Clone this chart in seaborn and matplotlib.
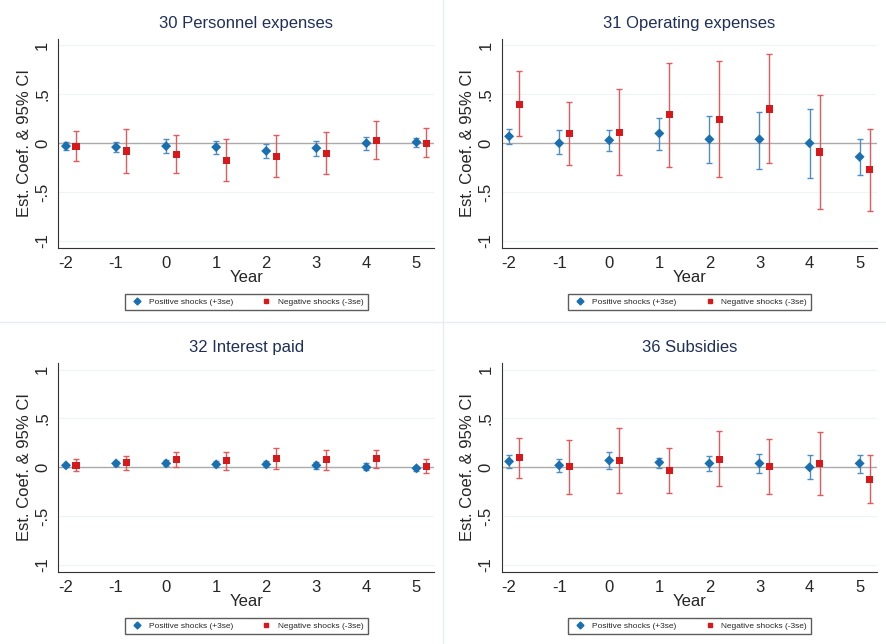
import numpy as np
import pandas as pd
import matplotlib
matplotlib.use('Agg')
import matplotlib.pyplot as plt
from matplotlib.lines import Line2D
import seaborn as sns

sns.set_style('white')
plt.rcParams['font.family'] = ['Liberation Sans', 'DejaVu Sans']
plt.rcParams['axes.unicode_minus'] = False

years = [-2, -1, 0, 1, 2, 3, 4, 5]
titles = ['30 Personnel expenses', '31 Operating expenses', '32 Interest paid', '36 Subsidies']

# positive shocks: estimate, lower, upper
pos_est = [[-0.03, -0.04, -0.03, -0.04, -0.08, -0.05, 0.00, 0.01],
           [0.07, 0.00, 0.03, 0.10, 0.04, 0.04, 0.00, -0.14],
           [0.02, 0.04, 0.04, 0.03, 0.03, 0.02, 0.00, -0.01],
           [0.06, 0.02, 0.07, 0.05, 0.04, 0.04, 0.00, 0.04]]
pos_lo = [[-0.07, -0.09, -0.10, -0.11, -0.15, -0.13, -0.07, -0.04],
          [-0.01, -0.11, -0.08, -0.07, -0.20, -0.26, -0.36, -0.33],
          [0.00, 0.01, 0.01, 0.00, 0.00, -0.02, -0.03, -0.04],
          [-0.01, -0.05, -0.02, -0.01, -0.04, -0.06, -0.12, -0.06]]
pos_hi = [[0.01, 0.01, 0.04, 0.02, -0.01, 0.02, 0.06, 0.05],
          [0.15, 0.13, 0.13, 0.26, 0.28, 0.32, 0.35, 0.04],
          [0.03, 0.06, 0.07, 0.06, 0.06, 0.05, 0.04, 0.01],
          [0.13, 0.08, 0.16, 0.10, 0.12, 0.14, 0.13, 0.13]]

# negative shocks
neg_est = [[-0.03, -0.08, -0.12, -0.18, -0.14, -0.11, 0.03, 0.00],
           [0.40, 0.10, 0.11, 0.29, 0.24, 0.35, -0.09, -0.27],
           [0.02, 0.05, 0.08, 0.07, 0.09, 0.08, 0.09, 0.01],
           [0.10, 0.01, 0.07, -0.03, 0.08, 0.01, 0.04, -0.12]]
neg_lo = [[-0.18, -0.30, -0.31, -0.39, -0.35, -0.32, -0.16, -0.14],
          [0.07, -0.22, -0.33, -0.24, -0.35, -0.20, -0.67, -0.69],
          [-0.04, -0.03, 0.00, -0.03, -0.02, -0.03, -0.01, -0.06],
          [-0.11, -0.27, -0.26, -0.26, -0.19, -0.27, -0.28, -0.37]]
neg_hi = [[0.12, 0.15, 0.08, 0.04, 0.08, 0.11, 0.23, 0.16],
          [0.74, 0.42, 0.55, 0.82, 0.84, 0.91, 0.49, 0.15],
          [0.09, 0.12, 0.16, 0.16, 0.20, 0.18, 0.18, 0.09],
          [0.30, 0.28, 0.40, 0.20, 0.37, 0.29, 0.36, 0.13]]

blue = '#1a6fb0'
red = '#d7191c'

fig, axes = plt.subplots(2, 2, figsize=(8.86, 6.44), dpi=100)
for i, ax in enumerate(axes.flat):
    yrs = np.array(years)
    pe, pl, ph = map(np.array, (pos_est[i], pos_lo[i], pos_hi[i]))
    ne, nl, nh = map(np.array, (neg_est[i], neg_lo[i], neg_hi[i]))
    ax.axhline(0, color='#aaaaaa', lw=1, zorder=1)
    for v in [-1, -0.5, 0.5, 1]:
        ax.axhline(v, color='#eef3f6', lw=0.8, zorder=0)
    ax.errorbar(yrs, pe, yerr=[pe - pl, ph - pe], fmt='none', ecolor='#4d8fc4',
                elinewidth=1, capsize=2.5, zorder=2)
    ax.errorbar(yrs + 0.2, ne, yerr=[ne - nl, nh - ne], fmt='none', ecolor='#e35a5c',
                elinewidth=1, capsize=2.5, zorder=2)
    df = pd.DataFrame({'Year': np.concatenate([yrs, yrs + 0.2]),
                       'coef': np.concatenate([pe, ne]),
                       'grp': ['Positive shocks (+3se)'] * 8 + ['Negative shocks (-3se)'] * 8})
    sns.scatterplot(data=df, x='Year', y='coef', hue='grp', style='grp',
                    markers={'Positive shocks (+3se)': 'D', 'Negative shocks (-3se)': 's'},
                    palette={'Positive shocks (+3se)': blue, 'Negative shocks (-3se)': red},
                    s=26, edgecolor='none', ax=ax, legend=False, zorder=3)
    ax.set_xlim(-2.15, 5.35)
    ax.set_ylim(-1.07, 1.07)
    ax.set_yticks([-1, -0.5, 0, 0.5, 1])
    ax.set_yticklabels(['-1', '-.5', '0', '.5', '1'], rotation=90, va='center')
    ax.set_xticks(years)
    ax.tick_params(axis='both', length=4, labelsize=12, direction='out', color='#333333', pad=2)
    ax.set_title(titles[i], fontsize=12, color='#1f2f5a', pad=8)
    ax.set_xlabel('Year', fontsize=12, labelpad=-1)
    ax.set_ylabel('Est. Coef. & 95% CI', fontsize=12, labelpad=2)
    for s in ['top', 'right']:
        ax.spines[s].set_visible(False)
    for s in ['left', 'bottom']:
        ax.spines[s].set_color('#333333')
    handles = [Line2D([], [], ls='none', marker='D', color=blue, ms=3.5, label='Positive shocks (+3se)'),
               Line2D([], [], ls='none', marker='s', color=red, ms=3.5, label='Negative shocks (-3se)')]
    ax.legend(handles=handles, loc='center', bbox_to_anchor=(0.5, -0.26), ncol=2,
              fontsize=6, frameon=True, fancybox=False, edgecolor='#333333',
              handletextpad=0.4, columnspacing=3.0, borderpad=0.5)

# faint separators between panels
fig.add_artist(Line2D([0, 1], [0.5, 0.5], color='#e6ecef', lw=1, transform=fig.transFigure))
fig.add_artist(Line2D([0.5, 0.5], [0, 1], color='#e6ecef', lw=1, transform=fig.transFigure))

fig.subplots_adjust(left=0.066, right=0.99, top=0.94, bottom=0.112, wspace=0.18, hspace=0.55)
fig.savefig('out.png', dpi=100)
